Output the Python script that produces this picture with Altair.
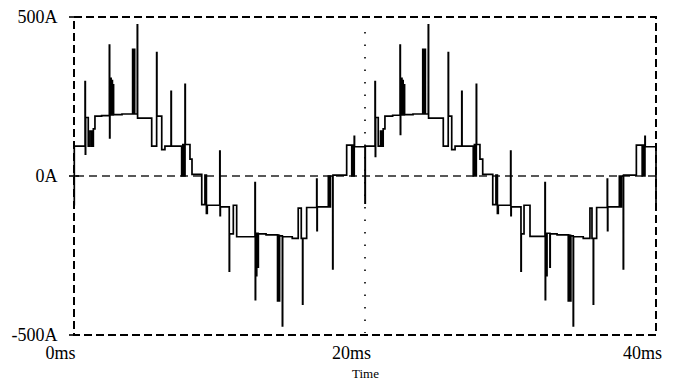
import altair as alt
import pandas as pd

# Time (ms) and current (A); step-after waveform
T_MS = [
    0, 0.02, 0.76, 0.78, 0.80, 0.98, 1.10, 1.22, 1.33, 1.44,
    1.90, 2.43, 2.45, 2.47, 2.53, 2.55, 2.62, 2.64, 2.70, 2.72,
    3.30, 4.03, 4.05, 4.09, 4.11, 4.15, 4.17, 4.35, 4.37,
    5.34, 5.68, 5.70, 6.03, 6.25, 6.67, 6.69,
    7.40, 7.48, 7.54, 7.63, 7.65, 7.97, 8.11,
    8.78, 9.00, 9.10, 9.16,
    10.02, 10.04, 10.06,
    10.67, 10.69, 10.95, 11.18,
    12.44, 12.46, 12.48, 12.54, 12.56, 12.65, 12.67,
    13.20, 13.99, 14.01, 14.05, 14.07, 14.11, 14.13,
    14.32, 14.34, 15.00,
    15.41, 15.62, 15.71, 15.73, 15.99,
    16.68, 16.70, 16.72,
    17.48, 17.55, 17.62, 17.78, 17.80,
    18.74, 19.09, 19.16, 19.22, 19.26, 19.28,
    20.00, 20.02,
    20.69, 20.71, 20.73, 20.91, 21.07, 21.16, 21.25, 21.37,
    21.90, 22.41, 22.43, 22.45, 22.52, 22.54, 22.60, 22.62, 22.70, 22.72,
    23.30, 23.97, 23.99, 24.05, 24.07, 24.13, 24.15, 24.35, 24.37,
    25.38, 25.72, 25.74, 25.96, 26.19, 26.65, 26.67,
    27.44, 27.52, 27.58, 27.65, 27.67, 27.90, 28.09,
    28.78, 29.00, 29.10, 29.16,
    30.01, 30.03, 30.05,
    30.72, 30.74, 30.93, 31.34,
    32.37, 32.39, 32.41, 32.49, 32.51, 32.71, 32.73,
    33.20, 33.97, 33.99, 34.05, 34.07, 34.13, 34.15,
    34.31, 34.33, 35.00,
    35.46, 35.60, 35.69, 35.71, 35.92,
    36.65, 36.67, 36.69,
    37.48, 37.55, 37.62, 37.75, 37.77,
    38.65, 39.05, 39.12, 39.18, 39.24, 39.26,
    40.00,
]
I_A = [
    -90, 94, 297, 69, 184, 94, 141, 94, 148, 188,
    190, 412, 120, 192, 307, 192, 300, 192, 287, 193,
    195, 398, 195, 398, 195, 398, 195, 475, 182,
    94, 388, 188, 83, 94, 266, 94,
    0, 99, 0, 288, 99, 53, 5,
    -90, 3, -118, -92,
    78, -125, -97,
    -299, -182, -92, -191,
    -21, -389, -180, -313, -180, -287, -182,
    -185, -393, -186, -393, -187, -393, -188,
    -471, -191, -196,
    -101, -196, -403, -196, -99,
    -10, -172, -97,
    0, -97, 0, -292, 3,
    97, 0, 97, 0, 125, 92,
    -85, 94,
    297, 62, 184, 94, 141, 94, 148, 188,
    191, 412, 131, 192, 307, 192, 300, 192, 287, 193,
    195, 398, 195, 398, 195, 398, 195, 475, 182,
    94, 388, 188, 83, 94, 266, 94,
    0, 99, 0, 288, 99, 53, 5,
    -90, 3, -118, -92,
    78, -125, -97,
    -299, -182, -92, -190,
    -21, -389, -180, -313, -180, -287, -182,
    -185, -393, -186, -393, -187, -393, -188,
    -471, -191, -196,
    -101, -196, -403, -196, -99,
    -10, -172, -97,
    0, -97, 0, -292, 3,
    97, 0, 97, 0, 125, 92,
    -88,
]

X_TICKS = [0, 20, 40]
Y_TICKS = [-500, 0, 500]

df = pd.DataFrame({"t": T_MS, "i": I_A, "idx": list(range(len(T_MS)))})
yt = pd.DataFrame({"v": Y_TICKS})

FONT = "Liberation Serif"

x_scale = alt.Scale(domain=[0, 40], nice=False, zero=False)
y_scale = alt.Scale(domain=[-500, 500], nice=False, zero=False)

x_axis = alt.Axis(
    values=X_TICKS, labelExpr="datum.value + 'ms'", title="Time",
    grid=False, ticks=False, domain=False, labelPadding=9, labelOffset=-14,
    labelFlush=False, labelOverlap=False,
    labelFontSize=18, labelFont=FONT, labelColor="black",
    titleFontSize=13, titleFont=FONT, titleFontWeight="normal", titleColor="black",
    titlePadding=5,
)
y_axis = alt.Axis(
    values=Y_TICKS, labelExpr="datum.value + 'A'", title=None,
    grid=False, ticks=False, domain=False, labelPadding=17,
    labelFlush=False, labelOverlap=False,
    labelFontSize=18, labelFont=FONT, labelColor="black",
)

line = alt.Chart(df).mark_line(
    interpolate="step-after", color="black", strokeWidth=1.7
).encode(
    x=alt.X("t:Q", scale=x_scale, axis=x_axis),
    y=alt.Y("i:Q", scale=y_scale, axis=y_axis),
    order=alt.Order("idx:Q"),
)

zero_line = alt.Chart(yt).transform_filter("datum.v == 0").mark_rule(
    color="#222", strokeWidth=1.5, strokeDash=[8, 5]
).encode(y=alt.Y("v:Q", scale=y_scale))

mid_line = alt.Chart(pd.DataFrame({"t": [20]})).mark_rule(
    color="black", strokeWidth=1.6, strokeDash=[1.5, 11]
).encode(x=alt.X("t:Q", scale=x_scale), y=alt.value(15), y2=alt.value(316))

tick_cross = alt.Chart(yt).mark_rule(color="black", strokeWidth=1.6).encode(
    y=alt.Y("v:Q", scale=y_scale), x=alt.value(-5), x2=alt.value(5)
)

chart = alt.layer(zero_line, mid_line, tick_cross, line).properties(
    width=582, height=318,
    autosize=alt.AutoSizeParams(type="none"),
    padding={"left": 66, "top": 9, "right": 14, "bottom": 51},
    background="white",
).configure_view(
    stroke="black", strokeWidth=2, strokeDash=[8, 4]
)

chart.save("out.html", embed_options={"renderer": "svg", "actions": False})
